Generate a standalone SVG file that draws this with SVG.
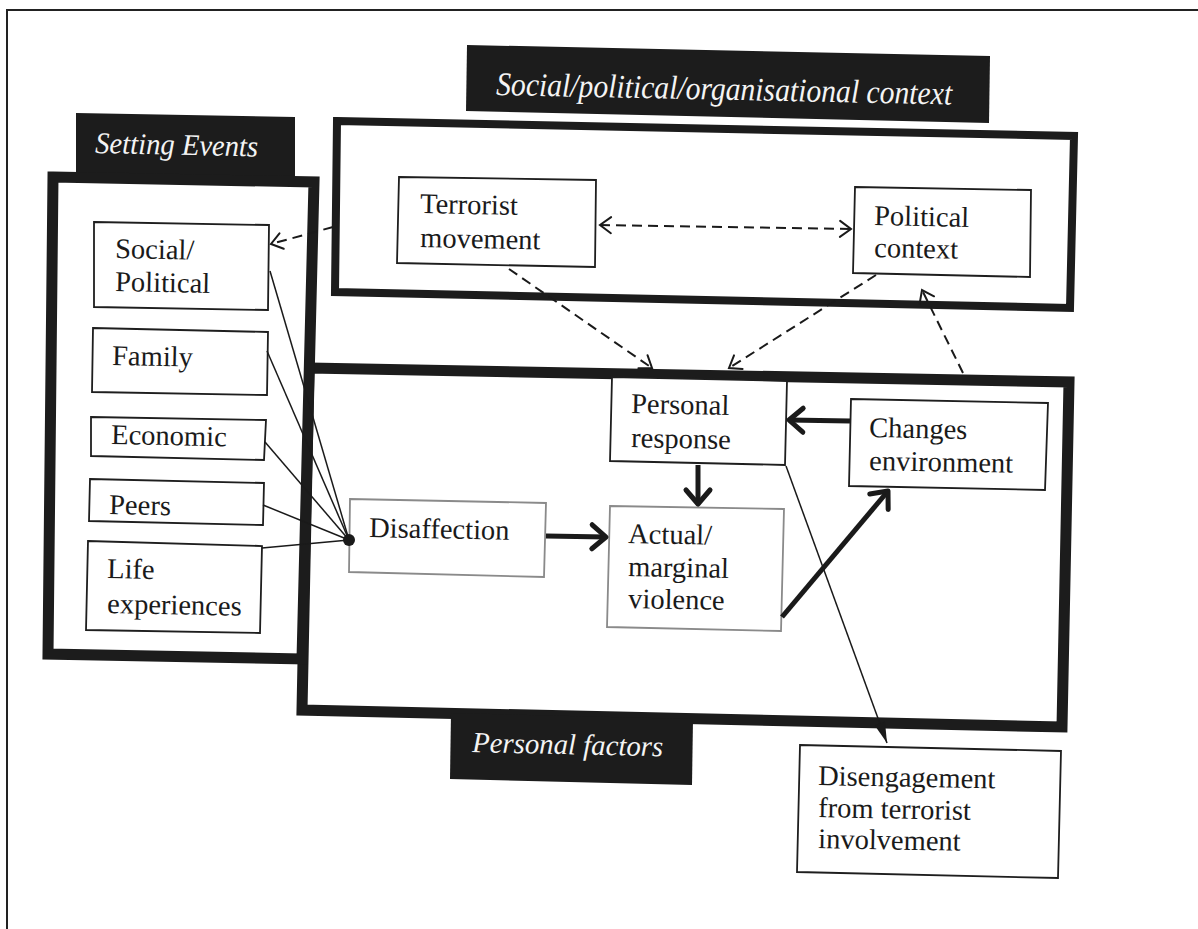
<svg xmlns="http://www.w3.org/2000/svg" width="1198" height="929" viewBox="0 0 1198 929">
<style>
.bg{fill:#ffffff}
.frame{fill:none;stroke:#222;stroke-width:2}
.panel{fill:#ffffff;stroke:#1c1c1c;stroke-linejoin:miter}
.tab{fill:#1c1c1c}
.tabtxt{font-family:"Liberation Serif","Times New Roman",serif;font-style:italic;fill:#f4f4f4}
.node{fill:#ffffff;stroke:#1e1e1e;stroke-width:1.8}
.gnode{fill:#ffffff;stroke:#8a8a8a;stroke-width:1.8}
.t{font-family:"Liberation Serif","Times New Roman",serif;font-size:28.5px;fill:#1a1a1a}
.thin{fill:none;stroke:#1a1a1a;stroke-width:1.5}
.thick{fill:none;stroke:#1a1a1a;stroke-width:5;marker-end:url(#ahThick)}
.dash{fill:none;stroke:#1a1a1a;stroke-width:2;stroke-dasharray:10 6;marker-end:url(#ahDash)}
</style>
<defs>
<marker id="ahThick" markerUnits="userSpaceOnUse" viewBox="-20 -16 24 32" markerWidth="24" markerHeight="32" refX="0" refY="0" orient="auto" overflow="visible">
<path d="M-14,-12 L0,0 L-14,12" fill="none" stroke="#1a1a1a" stroke-width="5" stroke-linecap="round" stroke-linejoin="round"/>
</marker>
<marker id="ahDash" markerUnits="userSpaceOnUse" viewBox="-16 -12 20 24" markerWidth="20" markerHeight="24" refX="0" refY="0" orient="auto-start-reverse" overflow="visible">
<path d="M-11,-8 L0,0 L-11,8" fill="none" stroke="#1a1a1a" stroke-width="2" stroke-linecap="round"/>
</marker>
<marker id="ahFill" markerUnits="userSpaceOnUse" viewBox="-24 -8 26 16" markerWidth="26" markerHeight="16" refX="0" refY="0" orient="auto" overflow="visible">
<path d="M-21,-5.5 L0,0 L-21,5.5 Z" fill="#1a1a1a"/>
</marker>
</defs>

<rect class="bg" x="0" y="0" width="1198" height="929"/>
<path class="frame" d="M7,929 L7,10 L1198,10"/>

<!-- Social/political/organisational context panel -->
<g id="context-panel">
<polygon class="tab" points="467,45 990,56 989,123 466,111"/>
<text class="tabtxt" x="496" y="95" font-size="33" textLength="456" lengthAdjust="spacingAndGlyphs" transform="rotate(1.2 496 95)">Social/political/organisational context</text>
<polygon class="panel" stroke-width="8" points="337,121 1074,136 1070,308 335,292"/>
</g>

<!-- Personal factors panel -->
<g id="personal-panel">
<polygon class="panel" stroke-width="11" points="309,368 1069,382 1062,727 302,710"/>
<polygon class="tab" points="451,713 693,719 692,785 450,779"/>
<text class="tabtxt" x="472" y="752" font-size="29" textLength="191" lengthAdjust="spacingAndGlyphs" transform="rotate(1.3 472 752)">Personal factors</text>
</g>

<!-- Setting Events panel -->
<g id="setting-panel">
<polygon class="tab" points="76,113 295,117 295,182 76,178"/>
<text class="tabtxt" x="95" y="153" font-size="30" textLength="163" lengthAdjust="spacingAndGlyphs" transform="rotate(1.2 95 153)">Setting Events</text>
<polygon class="panel" stroke-width="11" points="53,177 314,182 302,659 48,654"/>
</g>

<!-- nodes -->
<g id="n-social">
<polygon class="node" points="94,222 269,225 268,310 94,307"/>
<text class="t" x="115" y="258" transform="rotate(1.1 115 258)">Social/</text>
<text class="t" x="115" y="291" transform="rotate(1.1 115 291)">Political</text>
</g>
<g id="n-family">
<polygon class="node" points="93,328 268,332 267,395 92,392"/>
<text class="t" x="112" y="365" transform="rotate(1.1 112 365)">Family</text>
</g>
<g id="n-economic">
<polygon class="node" points="91,417 266,420 264,460 91,456"/>
<text class="t" x="111" y="444" transform="rotate(1.1 111 444)">Economic</text>
</g>
<g id="n-peers">
<polygon class="node" points="90,479 264,483 263,525 89,521"/>
<text class="t" x="109" y="514" transform="rotate(1.1 109 514)">Peers</text>
</g>
<g id="n-life">
<polygon class="node" points="88,541 262,546 260,633 86,630"/>
<text class="t" x="107" y="578" transform="rotate(1.1 107 578)">Life</text>
<text class="t" x="107" y="613" transform="rotate(1.1 107 613)">experiences</text>
</g>
<g id="n-terrorist">
<polygon class="node" points="399,177 596,180 595,267 397,263"/>
<text class="t" x="420" y="213" transform="rotate(1.1 420 213)">Terrorist</text>
<text class="t" x="420" y="247" transform="rotate(1.1 420 247)">movement</text>
</g>
<g id="n-political">
<polygon class="node" points="855,187 1031,190 1030,277 853,273"/>
<text class="t" x="874" y="225" transform="rotate(1.1 874 225)">Political</text>
<text class="t" x="874" y="257" transform="rotate(1.1 874 257)">context</text>
</g>
<g id="n-response">
<polygon class="node" points="612,377 787,381 785,465 610,461"/>
<text class="t" x="631" y="413" transform="rotate(1.1 631 413)">Personal</text>
<text class="t" x="631" y="447" transform="rotate(1.1 631 447)">response</text>
</g>
<g id="n-changes">
<polygon class="node" points="851,399 1048,403 1045,490 849,486"/>
<text class="t" x="869" y="437" transform="rotate(1.1 869 437)">Changes</text>
<text class="t" x="869" y="470" transform="rotate(1.1 869 470)">environment</text>
</g>
<g id="n-disaffection">
<polygon class="gnode" points="350,499 546,503 544,577 349,572"/>
<text class="t" x="369" y="537" transform="rotate(1.1 369 537)">Disaffection</text>
</g>
<g id="n-actual">
<polygon class="gnode" points="610,506 784,509 781,631 607,627"/>
<text class="t" x="628" y="543" transform="rotate(1.1 628 543)">Actual/</text>
<text class="t" x="628" y="576" transform="rotate(1.1 628 576)">marginal</text>
<text class="t" x="628" y="608" transform="rotate(1.1 628 608)">violence</text>
</g>
<g id="n-disengagement">
<polygon class="node" points="800,745 1061,751 1058,878 797,872"/>
<text class="t" x="818" y="785" transform="rotate(1.1 818 785)">Disengagement</text>
<text class="t" x="818" y="817" transform="rotate(1.1 818 817)">from terrorist</text>
<text class="t" x="818" y="848" transform="rotate(1.1 818 848)">involvement</text>
</g>

<!-- connectors -->
<g id="connectors">
<line class="thin" x1="270" y1="271" x2="349" y2="540"/>
<line class="thin" x1="267" y1="351" x2="349" y2="540"/>
<line class="thin" x1="265" y1="442" x2="349" y2="540"/>
<line class="thin" x1="263" y1="505" x2="349" y2="540"/>
<line class="thin" x1="262" y1="548" x2="349" y2="540"/>
<circle cx="349" cy="540" r="6" fill="#1a1a1a"/>
<line class="thick" x1="546" y1="536" x2="606" y2="537"/>
<line class="thick" x1="698" y1="465" x2="698" y2="504"/>
<line class="thick" x1="850" y1="421" x2="789" y2="420"/>
<line class="thick" x1="782" y1="617" x2="888" y2="491"/>
<line class="dash" x1="600" y1="225" x2="851" y2="229" marker-start="url(#ahDash)"/>
<line class="dash" x1="509" y1="269" x2="652" y2="368"/>
<line class="dash" x1="876" y1="275" x2="729" y2="368"/>
<line class="dash" x1="963" y1="373" x2="922" y2="290"/>
<line class="dash" x1="333" y1="227" x2="271" y2="244"/>
<line class="thin" x1="786" y1="466" x2="887" y2="743" marker-end="url(#ahFill)"/>
</g>
</svg>
